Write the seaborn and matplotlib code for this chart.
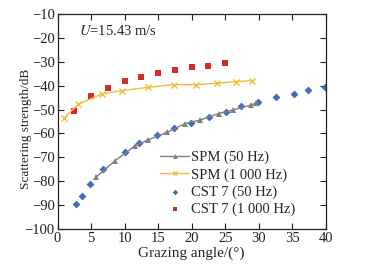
import matplotlib
matplotlib.use('Agg')
import matplotlib.pyplot as plt
import seaborn as sns
import numpy as np

# SPM curves
spm50_x = [5.7, 8.55, 11.5, 13.5, 16.3, 19.0, 21.3, 24.0, 26.1, 28.9, 29.6]
spm50_y = [-78.4, -71.5, -65.3, -62.7, -59.6, -55.9, -54.4, -51.7, -50.2, -48.1, -47.2]
spm1000_x = [0.9, 3.1, 6.6, 9.6, 13.5, 17.4, 20.6, 23.7, 26.6, 29.0]
spm1000_y = [-53.7, -47.8, -43.5, -42.1, -40.7, -39.6, -39.6, -39.0, -38.3, -37.9]

# CST 7 results
cst50_x = [2.8, 3.7, 4.8, 6.8, 10.1, 12.2, 14.9, 17.3, 19.9, 22.6, 25.1, 27.3, 29.9,
           32.6, 35.2, 37.3, 39.9]
cst50_y = [-89.5, -86.2, -81.3, -74.9, -67.8, -64.1, -60.6, -57.8, -55.5, -53.2, -51.2,
           -48.6, -46.7, -44.9, -43.5, -41.8, -40.4]
cst1000_x = [2.5, 5.0, 7.5, 10.0, 12.5, 15.0, 17.5, 20.0, 22.5, 25.0]
cst1000_y = [-50.5, -44.2, -41.1, -38.2, -36.4, -34.8, -33.3, -32.2, -31.8, -30.6]

sns.set_style('ticks')
plt.rcParams['font.family'] = ['Liberation Serif', 'DejaVu Serif']
plt.rcParams['mathtext.fontset'] = 'stix'
plt.rcParams['font.size'] = 10.5

colors = {'spm50': '#7f7f7f', 'spm1000': '#f2bf3a', 'cst50': '#3d6cc0', 'cst1000': '#d22b2b'}

fig = plt.figure(figsize=(3.69, 2.69), dpi=100)
ax = fig.add_axes([0.156, 0.149, 0.727, 0.799])

sns.lineplot(x=spm50_x, y=spm50_y, ax=ax, sort=False, color=colors['spm50'], lw=1.0,
             marker='^', markersize=5, markeredgewidth=0, label='SPM (50 Hz)')
sns.lineplot(x=spm1000_x, y=spm1000_y, ax=ax, sort=False, color=colors['spm1000'], lw=1.0,
             marker='x', markersize=5, markeredgewidth=1.0, markeredgecolor=colors['spm1000'],
             label='SPM (1 000 Hz)')
sns.scatterplot(x=cst50_x, y=cst50_y, ax=ax, color=colors['cst50'], marker='D', s=16,
                linewidth=0, label='CST 7 (50 Hz)')
sns.scatterplot(x=cst1000_x, y=cst1000_y, ax=ax, color=colors['cst1000'], marker='s', s=16,
                linewidth=0, label='CST 7 (1 000 Hz)')

ax.set_xlim(0, 40)
ax.set_ylim(-100, -10)
ax.set_xticks(np.arange(0, 41, 5))
ax.set_yticks(np.arange(-100, -9, 10))
ax.tick_params(direction='in', top=True, right=True, length=4, width=0.8, pad=2,
               labelsize=10.5, colors='#222222')
for sp in ax.spines.values():
    sp.set_linewidth(0.9)
    sp.set_color('#222222')

ax.set_xlabel('Grazing angle/(°)', fontsize=11, labelpad=1)
ax.set_ylabel('Scattering strength/dB', fontsize=9.6)
ax.yaxis.set_label_coords(-0.097, 0.465)
ax.text(3.2, -17, r'$U$=15.43 m/s', fontsize=10.5, va='center', ha='left')

ax.legend(loc='upper left', bbox_to_anchor=(0.36, 0.39), frameon=False, fontsize=10.5,
          handlelength=2.0, handletextpad=0.1, labelspacing=0.25, borderaxespad=0,
          markerscale=0.7)

fig.savefig('out.png', dpi=100)
